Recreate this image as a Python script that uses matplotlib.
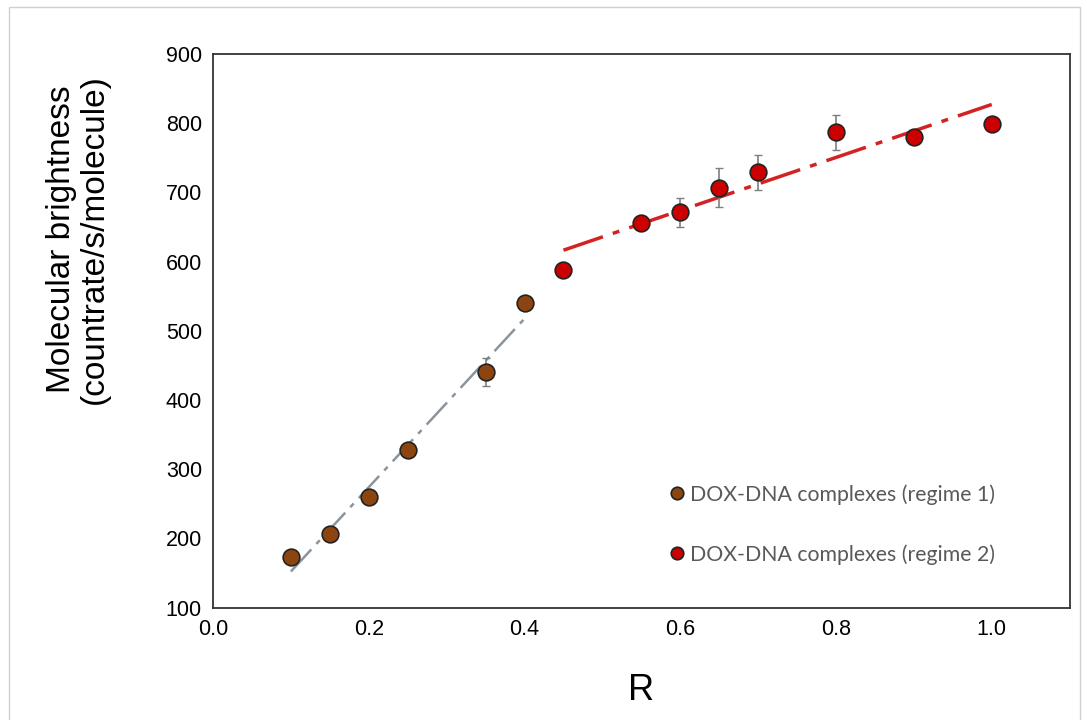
import matplotlib.pyplot as plt
import numpy as np
from matplotlib.patches import Rectangle

# regime 1 (brown)
r1_x = [0.10, 0.15, 0.20, 0.25, 0.35, 0.40]
r1_y = [173, 207, 260, 328, 441, 540]
r1_err = [4, 4, 4, 5, 20, 5]

# regime 2 (red)
r2_x = [0.45, 0.55, 0.60, 0.65, 0.70, 0.80, 0.90, 1.00]
r2_y = [588, 656, 671, 707, 729, 787, 780, 799]
r2_err = [4, 9, 21, 28, 25, 25, 9, 4]

labels = ["DOX-DNA complexes (regime 1)", "DOX-DNA complexes (regime 2)"]
x_ticks = [0.0, 0.2, 0.4, 0.6, 0.8, 1.0]
y_ticks = [100, 200, 300, 400, 500, 600, 700, 800, 900]

brown = "#8c4510"
red = "#cc0000"

fig = plt.figure(figsize=(10.87, 7.2), dpi=100)
fig.patches.append(Rectangle((9 / 1087, -0.1), (1080 - 9) / 1087, 1.1 - 7 / 720,
                             transform=fig.transFigure, fill=False,
                             edgecolor="#d0d0d0", linewidth=1))
ax = fig.add_axes([0.196, 0.156, 0.788, 0.769])

# linear trendlines (least squares over each regime)
for xs, ys, col, ls, lw in [(r1_x, r1_y, "#8a949e", (0, (12, 3, 2, 3)), 1.8),
                            (r2_x, r2_y, "#d42222", (0, (12, 3, 2, 3)), 2.5)]:
    k, b = np.polyfit(xs, ys, 1)
    xx = np.array([min(xs), max(xs)])
    ax.plot(xx, k * xx + b, color=col, linestyle=ls, linewidth=lw, zorder=2)

ax.errorbar(r1_x, r1_y, yerr=r1_err, fmt="none", ecolor="#7f7f7f",
            elinewidth=1.2, capsize=3, zorder=3)
ax.errorbar(r2_x, r2_y, yerr=r2_err, fmt="none", ecolor="#7f7f7f",
            elinewidth=1.2, capsize=3, zorder=3)
ax.plot(r1_x, r1_y, "o", markersize=12, markerfacecolor=brown,
        markeredgecolor="#222222", markeredgewidth=1.2, linestyle="none",
        label=labels[0], zorder=4)
ax.plot(r2_x, r2_y, "o", markersize=12, markerfacecolor=red,
        markeredgecolor="#222222", markeredgewidth=1.2, linestyle="none",
        label=labels[1], zorder=4)

ax.set_xlim(0, 1.1)
ax.set_ylim(100, 900)
ax.set_xticks(x_ticks)
ax.set_xticklabels([f"{v:.1f}" for v in x_ticks])
ax.set_yticks(y_ticks)
ax.tick_params(length=0, labelsize=15.5, pad=8)
for lab in ax.get_xticklabels() + ax.get_yticklabels():
    lab.set_fontfamily(["Liberation Sans", "DejaVu Sans"])
for sp in ax.spines.values():
    sp.set_color("#333333")
    sp.set_linewidth(1.3)

ax.set_xlabel("R", fontsize=26, family=["Liberation Sans", "DejaVu Sans"], labelpad=24)
ax.set_ylabel("Molecular brightness\n(countrate/s/molecule)", fontsize=24,
              family=["Liberation Sans", "DejaVu Sans"], linespacing=1.1)
ax.yaxis.set_label_coords(-0.12, 0.665)

leg = ax.legend(loc="upper left", bbox_to_anchor=(0.534, 0.223), frameon=False,
                borderaxespad=0, borderpad=0,
                prop={"family": ["Lato", "DejaVu Sans"], "size": 15.3},
                labelcolor="#595959", markerscale=0.75, handlelength=0.6,
                handletextpad=0.3, labelspacing=1.85)

fig.savefig("out.png", dpi=100)
